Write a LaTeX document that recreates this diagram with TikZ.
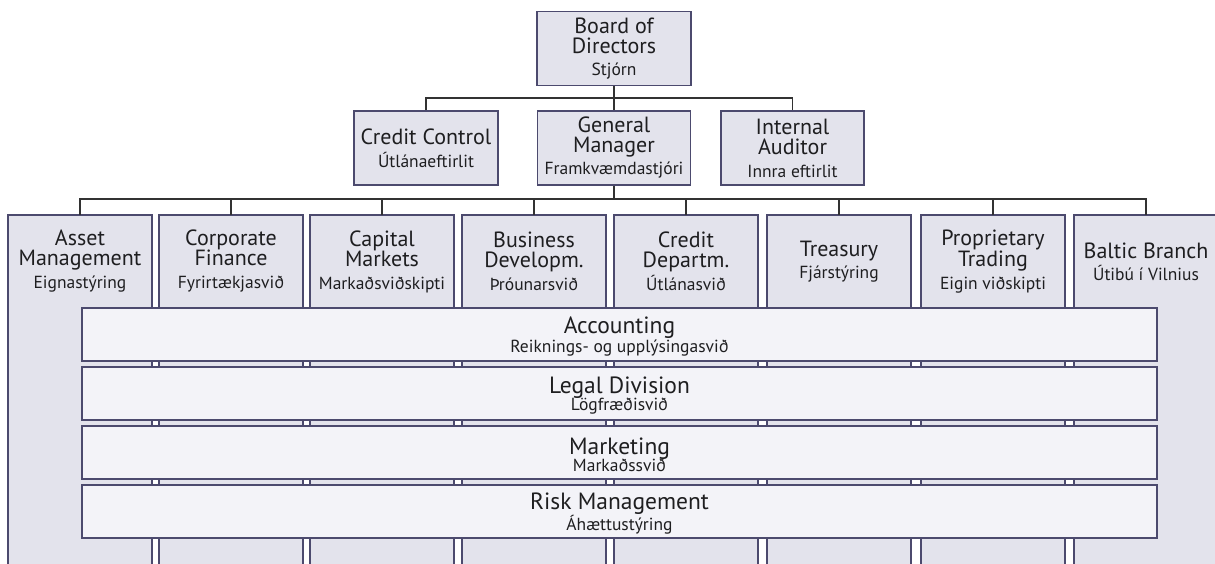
\documentclass[tikz,border=0pt]{standalone}
\usepackage{fontspec}
\setmainfont{PT Sans}
\usetikzlibrary{backgrounds}

\definecolor{edge}{RGB}{76,74,110}
\definecolor{colfill}{RGB}{227,227,236}
\definecolor{barfill}{RGB}{243,243,248}
\definecolor{wire}{RGB}{50,50,50}
\definecolor{ink}{RGB}{30,30,32}

\newcommand\orgtitle{\fontsize{22}{20}\selectfont}
\newcommand\orgsub{\fontsize{17.5}{18}\selectfont}
\newcommand\bartitle{\fontsize{23.5}{17.5}\selectfont}
% taller first line so the division labels sit a little lower in their bars
\newcommand\barstrut{\rule{0pt}{21pt}}

\begin{document}
\begin{tikzpicture}[x=1pt,y=-1pt,
  mgr/.style={draw=edge, line width=1.6pt, fill=colfill, minimum height=74pt,
    inner sep=0pt, align=center, font=\orgtitle, text=ink},
  dept/.style={minimum width=144pt, minimum height=93pt, inner sep=0pt,
    align=center, font=\orgtitle, text=ink},
  colbody/.style={draw=edge, line width=1.6pt, fill=colfill},
  bar/.style={draw=edge, line width=1.6pt, fill=barfill, minimum width=1075pt,
    minimum height=53pt, inner sep=0pt, align=center, font=\bartitle, text=ink},
  conn/.style={draw=wire, line width=1.5pt}]

\useasboundingbox (0,0) rectangle (1215,564);

% board and its direct reports
\node[mgr, minimum width=154pt] (board) at (614,48.5)
  {Board of\\Directors\\[2pt]{\orgsub Stjórn}};
\node[mgr, minimum width=144pt] (cc) at (426,148)
  {Credit Control\\[3pt]{\orgsub Útlánaeftirlit}};
\node[mgr, minimum width=153pt] (gm) at (614,148)
  {General\\Manager\\[2pt]{\orgsub Framkvæmdastjóri}};
\node[mgr, minimum width=143pt] (ia) at (792.5,148)
  {Internal\\Auditor\\[3pt]{\orgsub Innra eftirlit}};

% department headers (columns run down behind the shared divisions)
\node[dept] (am) at (80,261.5)   {Asset\\Management\\[3pt]{\orgsub Eignastýring}};
\node[dept] (cf) at (231,261.5)  {Corporate\\Finance\\[3pt]{\orgsub Fyrirtækjasvið}};
\node[dept] (cm) at (382,261.5)  {Capital\\Markets\\[3pt]{\orgsub Markaðsviðskipti}};
\node[dept] (bd) at (534,261.5)  {Business\\Developm.\\[3pt]{\orgsub Þróunarsvið}};
\node[dept] (cd) at (686,261.5)  {Credit\\Departm.\\[3pt]{\orgsub Útlánasvið}};
\node[dept] (tr) at (839,261.5)  {Treasury\\[2pt]{\orgsub Fjárstýring}};
\node[dept] (pt) at (993,261.5)  {Proprietary\\Trading\\[3pt]{\orgsub Eigin viðskipti}};
\node[dept] (bb) at (1146,261.5) {Baltic Branch\\[2pt]{\orgsub Útibú í Vilnius}};

\coordinate (bottom) at (0,600);
\begin{pgfonlayer}{background}
  \foreach \d in {am,cf,cm,bd,cd,tr,pt,bb}
    \filldraw[colbody] (\d.north west) rectangle (\d.east |- bottom);
\end{pgfonlayer}

% divisions spanning all departments
\node[bar] (acc) at (619.5,334.5)
  {\barstrut Accounting\\{\orgsub Reiknings- og upplýsingasvið}};
\node[bar] (leg) at (619.5,393.5)
  {\barstrut Legal Division\\{\orgsub Lögfræðisvið}};
\node[bar] (mkt) at (619.5,452.5)
  {\barstrut Marketing\\{\orgsub Markaðssvið}};
\node[bar] (risk) at (619.5,511.5)
  {\barstrut Risk Management\\{\orgsub Áhættustýring}};

% connectors
\coordinate (busA) at (0,98);
\coordinate (busB) at (0,199);
\draw[conn] (board.south) -- (gm.north);
\draw[conn] (cc.north) -- (cc.north |- busA) -- (ia.north |- busA) -- (ia.north);
\draw[conn] (gm.south) -- (gm.south |- busB);
\draw[conn] (am.north) -- (am.north |- busB) -- (bb.north |- busB) -- (bb.north);
\foreach \d in {cf,cm,bd,cd,tr,pt}
  \draw[conn] (\d.north) -- (\d.north |- busB);
\end{tikzpicture}
\end{document}
